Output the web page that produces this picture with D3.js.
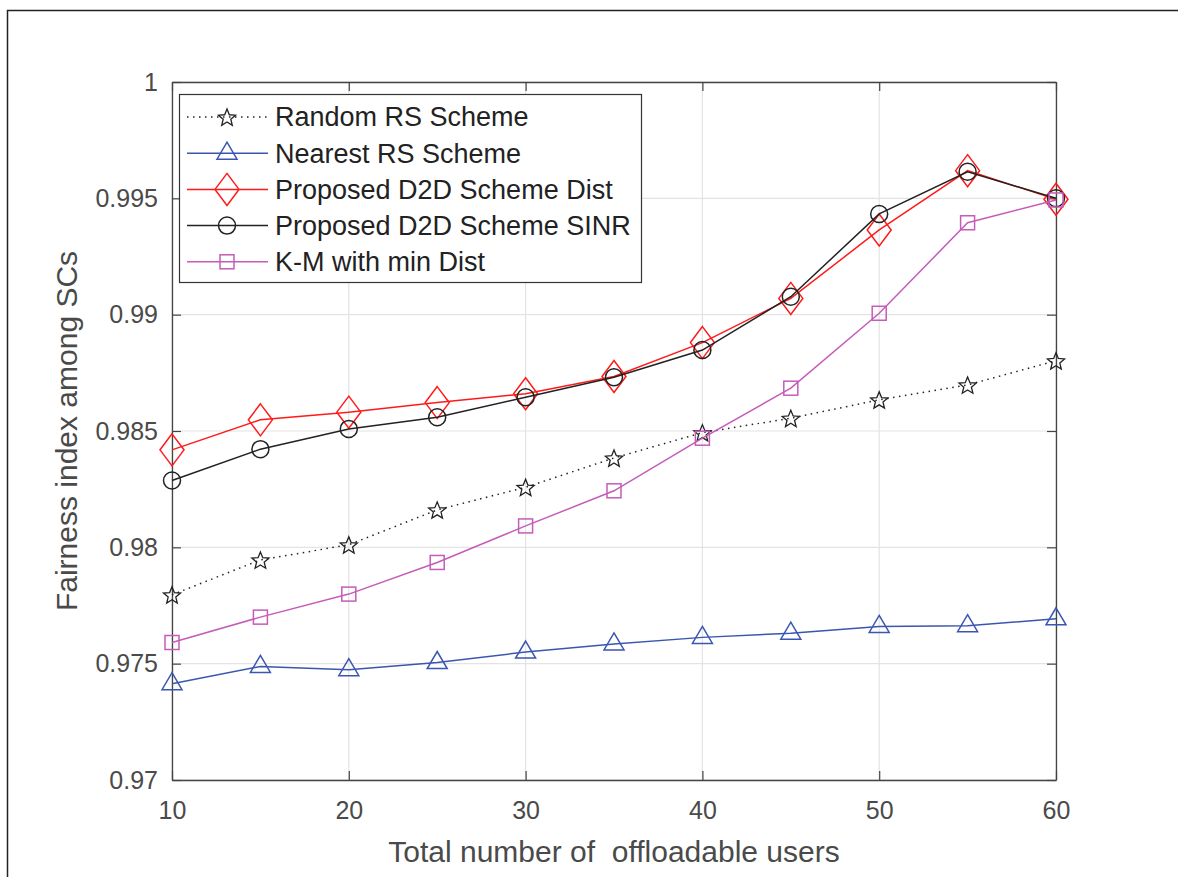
<!DOCTYPE html>
<html>
<head>
<meta charset="utf-8">
<script src="https://cdn.jsdelivr.net/npm/d3@7"></script>
<style>
  body { margin: 0; background: #fff; }
  svg { display: block; font-family: "Liberation Sans", Arial, sans-serif; }
</style>
</head>
<body>
<svg width="1178" height="877"></svg>
<script>
// users on x axis
const users = [10, 15, 20, 25, 30, 35, 40, 45, 50, 55, 60];

const randomRS   = [0.97796, 0.97946, 0.98011, 0.98161, 0.98258, 0.98384, 0.98493, 0.98555, 0.98634, 0.98698, 0.98802];
const nearestRS  = [0.97414, 0.97488, 0.97474, 0.97505, 0.97550, 0.97585, 0.97613, 0.97631, 0.97660, 0.97663, 0.97693];
const d2dDist    = [0.98419, 0.98548, 0.98581, 0.98622, 0.98660, 0.98734, 0.98880, 0.99070, 0.99364, 0.99619, 0.99496];
const d2dSinr    = [0.98287, 0.98422, 0.98509, 0.98559, 0.98645, 0.98731, 0.98848, 0.99077, 0.99433, 0.99614, 0.99500];
const kmMinDist  = [0.97591, 0.97700, 0.97799, 0.97935, 0.98092, 0.98243, 0.98469, 0.98684, 0.99006, 0.99395, 0.99493];

const xTicks = [10, 20, 30, 40, 50, 60];
const yTicks = [0.97, 0.975, 0.98, 0.985, 0.99, 0.995, 1];

const series = [
  { name: 'Random RS Scheme', values: randomRS, color: '#222', marker: 'star', dash: '1.5,4.5' },
  { name: 'Nearest RS Scheme', values: nearestRS, color: '#3a56b0', marker: 'triangle', dash: null },
  { name: 'Proposed D2D Scheme Dist', values: d2dDist, color: '#ff1a1a', marker: 'diamond', dash: null },
  { name: 'Proposed D2D Scheme SINR', values: d2dSinr, color: '#222', marker: 'circle', dash: null },
  { name: 'K-M with min Dist', values: kmMinDist, color: '#c55cb9', marker: 'square', dash: null }
];

const svg = d3.select('svg');

// outer figure frame
svg.append('rect')
  .attr('x', 7.5).attr('y', 10.5)
  .attr('width', 1200).attr('height', 900)
  .attr('fill', 'none').attr('stroke', '#222').attr('stroke-width', 1.5);

const plotL = 172, plotR = 1056, plotT = 82, plotB = 780;

const x = d3.scaleLinear().domain([10, 60]).range([plotL, plotR]);
const y = d3.scaleLinear().domain([0.97, 1]).range([plotB, plotT]);

// grid
const grid = svg.append('g');
grid.selectAll('.gx').data(xTicks).enter().append('line')
  .attr('x1', d => x(d)).attr('x2', d => x(d))
  .attr('y1', plotT).attr('y2', plotB)
  .attr('stroke', '#e3e3e3').attr('stroke-width', 1.2);
grid.selectAll('.gy').data(yTicks).enter().append('line')
  .attr('x1', plotL).attr('x2', plotR)
  .attr('y1', d => y(d)).attr('y2', d => y(d))
  .attr('stroke', '#e3e3e3').attr('stroke-width', 1.2);

// axes, ticks inward
const axisColor = '#444';
const xAxis = svg.append('g').attr('transform', `translate(0,${plotB})`)
  .call(d3.axisBottom(x).tickValues(xTicks).tickSizeInner(-9).tickSizeOuter(0).tickPadding(21));
const xAxisTop = svg.append('g').attr('transform', `translate(0,${plotT})`)
  .call(d3.axisTop(x).tickValues(xTicks).tickSizeInner(-9).tickSizeOuter(0).tickFormat(''));
const yAxis = svg.append('g').attr('transform', `translate(${plotL},0)`)
  .call(d3.axisLeft(y).tickValues(yTicks).tickSizeInner(-9).tickSizeOuter(0).tickPadding(14)
    .tickFormat(d => d === 1 ? '1' : String(+d.toFixed(3))));
const yAxisRight = svg.append('g').attr('transform', `translate(${plotR},0)`)
  .call(d3.axisRight(y).tickValues(yTicks).tickSizeInner(-9).tickSizeOuter(0).tickFormat(''));

[xAxis, xAxisTop, yAxis, yAxisRight].forEach(a => {
  a.select('.domain').attr('stroke', axisColor).attr('stroke-width', 1.3);
  a.selectAll('.tick line').attr('stroke', axisColor).attr('stroke-width', 1.2);
  a.selectAll('.tick text').attr('fill', '#4a4a4a').style('font-size', '25px')
    .style('font-family', '"Liberation Sans", Arial, sans-serif');
});
xAxis.selectAll('.tick text').attr('dy', '0.71em');

// axis titles
svg.append('text')
  .attr('x', (plotL + plotR) / 2).attr('y', 862)
  .attr('text-anchor', 'middle')
  .attr('fill', '#4a4a4a').style('font-size', '30px')
  .style('white-space', 'pre')
  .text('Total number of  offloadable users');

svg.append('text')
  .attr('transform', `translate(77,${(plotT + plotB) / 2}) rotate(-90)`)
  .attr('text-anchor', 'middle')
  .attr('fill', '#4a4a4a').style('font-size', '30px')
  .text('Fairness index among SCs');

// marker drawing
function drawMarker(g, type, color) {
  if (type === 'star') {
    const pts = [];
    for (let i = 0; i < 10; i++) {
      const r = i % 2 === 0 ? 9 : 4;
      const a = -Math.PI / 2 + i * Math.PI / 5;
      pts.push([r * Math.cos(a), r * Math.sin(a) + 1]);
    }
    g.append('polygon').attr('points', pts.map(p => p.join(',')).join(' '))
      .attr('fill', 'none').attr('stroke', color).attr('stroke-width', 1.3);
  } else if (type === 'triangle') {
    g.append('polygon').attr('points', '0,-11 10,6 -10,6')
      .attr('fill', 'none').attr('stroke', color).attr('stroke-width', 1.5);
  } else if (type === 'diamond') {
    g.append('polygon').attr('points', '0,-16 12,0 0,16 -12,0')
      .attr('fill', 'none').attr('stroke', color).attr('stroke-width', 1.5);
  } else if (type === 'circle') {
    g.append('circle').attr('r', 8.5)
      .attr('fill', 'none').attr('stroke', color).attr('stroke-width', 1.5);
  } else if (type === 'square') {
    g.append('rect').attr('x', -7).attr('y', -7).attr('width', 14).attr('height', 14)
      .attr('fill', 'none').attr('stroke', color).attr('stroke-width', 1.5);
  }
}

const line = d3.line().x(d => x(d[0])).y(d => y(d[1]));

series.forEach(s => {
  const pts = users.map((u, i) => [u, s.values[i]]);
  svg.append('path')
    .datum(pts)
    .attr('d', line)
    .attr('fill', 'none')
    .attr('stroke', s.color)
    .attr('stroke-width', 1.5)
    .attr('stroke-dasharray', s.dash);
  pts.forEach(p => {
    const g = svg.append('g').attr('transform', `translate(${x(p[0])},${y(p[1])})`);
    drawMarker(g, s.marker, s.color);
  });
});

// legend
const legend = svg.append('g');
legend.append('rect')
  .attr('x', 179.5).attr('y', 94.5)
  .attr('width', 462).attr('height', 188)
  .attr('fill', '#fff').attr('stroke', '#333').attr('stroke-width', 1.2);

series.forEach((s, i) => {
  const cy = 117 + i * 36.2;
  legend.append('line')
    .attr('x1', 187).attr('x2', 268)
    .attr('y1', cy).attr('y2', cy)
    .attr('stroke', s.color).attr('stroke-width', 1.5)
    .attr('stroke-dasharray', s.dash);
  const g = legend.append('g').attr('transform', `translate(227,${cy})`);
  drawMarker(g, s.marker, s.color);
  legend.append('text')
    .attr('x', 275).attr('y', cy)
    .attr('dy', '0.35em')
    .attr('fill', '#222')
    .style('font-size', '27px')
    .text(s.name);
});
</script>
</body>
</html>
